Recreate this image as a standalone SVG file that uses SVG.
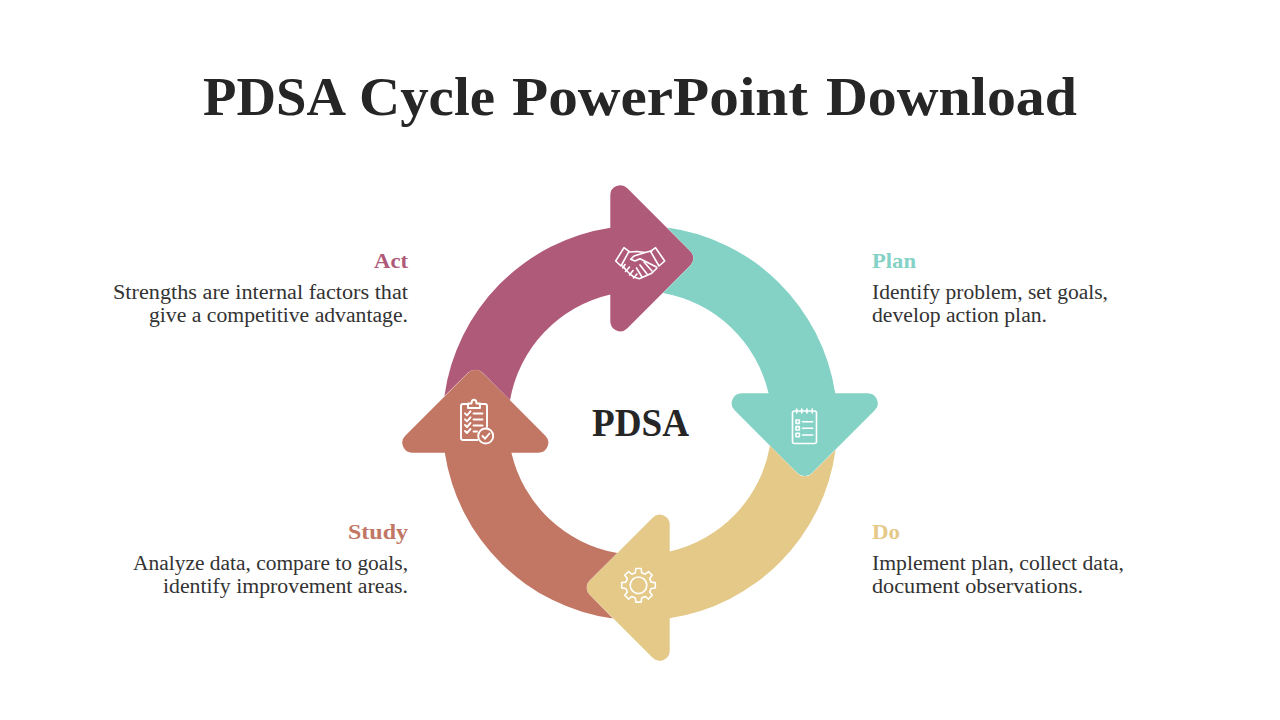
<svg xmlns="http://www.w3.org/2000/svg" width="1280" height="720" viewBox="0 0 1280 720">
<style>
text{font-family:"Liberation Serif","Noto Serif",serif;}
.t{font-size:54px;font-weight:700;fill:#262626}
.c{font-size:39px;font-weight:700;fill:#262626}
.h{font-size:22px;font-weight:700}
.b{font-size:20.5px;fill:#333333}
.e{text-anchor:end}
.ic{fill:none;stroke:#fff;stroke-width:1.6;stroke-linecap:round;stroke-linejoin:round}
.th{stroke-width:1.9}
</style>
<defs>
<path id="arrow" d="M667.1 227.4A197.5 197.5 0 0 1 835.2 393.3H867.7A10 10 0 0 1 874.77 410.37L811.77 473.37A10 10 0 0 1 797.63 473.37L734.63 410.37A10 10 0 0 1 741.7 393.3H768.6A132 132 0 0 0 662.8 293L690.4 265.4A10 10 0 0 0 690.4 251.2Z"/>
</defs>
<rect width="1280" height="720" fill="#fff"/>
<text class="t" y="115"><tspan x="203" textLength="140" lengthAdjust="spacingAndGlyphs">PDSA</tspan> <tspan x="359" textLength="136" lengthAdjust="spacingAndGlyphs">Cycle</tspan> <tspan x="512" textLength="296" lengthAdjust="spacingAndGlyphs">PowerPoint</tspan> <tspan x="826" textLength="251" lengthAdjust="spacingAndGlyphs">Download</tspan></text>
<g id="node-act">
<use href="#arrow" fill="#B05A7A" transform="rotate(-90 640 423)"/>
<g class="ic">
<path d="M624 247.700L629 251.300L621 266L615.700 261Z"/>
<path d="M655.500 247.700L650.500 251.300L659 266L664.700 261Z"/>
<path d="M629 252L637 251.500L645 252.500L652 250.700"/>
<path d="M645 252.500L634 256L630.700 259.300L635 261L640 258.700L656.500 267"/>
<path d="M622.700 266L626 270L630 274L634.300 277.300L639.300 278.700L651.700 273.300L657 268"/>
<path d="M625 264.500L622.700 268M629.500 267L625.500 271.500M633 270.500L629.500 275M637 274L633.500 278M644 262L652 271M640 265L647 274M636.500 268L642 277"/>
</g>
<text class="h e" x="408" y="268" fill="#B05A7A" textLength="34" lengthAdjust="spacingAndGlyphs">Act</text>
<text class="b e" x="408" y="299" textLength="295" lengthAdjust="spacingAndGlyphs">Strengths are internal factors that</text>
<text class="b e" x="408" y="322" textLength="259" lengthAdjust="spacingAndGlyphs">give a competitive advantage.</text>
</g>
<g id="node-plan">
<use href="#arrow" fill="#84D2C5"/>
<g class="ic">
<rect x="792.500" y="411" width="24" height="32.500" rx="2"/>
<path d="M796.700 409V413M801.700 409V413M807 409V413M812.300 409V413M802.500 421.700H812.700M802.500 428.300H812.700M802.500 435H812.700"/>
<rect x="796" y="420" width="3.400" height="3.400"/><rect x="796" y="426.600" width="3.400" height="3.400"/><rect x="796" y="433.300" width="3.400" height="3.400"/>
</g>
<text class="h" x="872" y="268" fill="#84D2C5" textLength="44" lengthAdjust="spacingAndGlyphs">Plan</text>
<text class="b" x="872" y="299" textLength="236" lengthAdjust="spacingAndGlyphs">Identify problem, set goals,</text>
<text class="b" x="872" y="322" textLength="175" lengthAdjust="spacingAndGlyphs">develop action plan.</text>
</g>
<g id="node-do">
<use href="#arrow" fill="#E4C988" transform="rotate(90 640 423)"/>
<g class="ic" transform="translate(638.5 585.3)">
<circle r="8.300"/>
<path d="M12.610-3.150L16.790-2.660V2.660L12.610 3.150L11.140 6.700L13.750 9.990L9.990 13.750L6.700 11.140L3.150 12.610L2.660 16.790H-2.660L-3.150 12.610L-6.700 11.140L-9.990 13.750L-13.750 9.990L-11.140 6.700L-12.610 3.150L-16.790 2.660V-2.660L-12.610-3.150L-11.140-6.700L-13.750-9.990L-9.990-13.750L-6.700-11.140L-3.150-12.610L-2.660-16.790H2.660L3.150-12.610L6.700-11.140L9.990-13.750L13.750-9.990L11.140-6.700Z"/>
</g>
<text class="h" x="872" y="539" fill="#E4C988" textLength="28" lengthAdjust="spacingAndGlyphs">Do</text>
<text class="b" x="872" y="570" textLength="252" lengthAdjust="spacingAndGlyphs">Implement plan, collect data,</text>
<text class="b" x="872" y="593" textLength="211" lengthAdjust="spacingAndGlyphs">document observations.</text>
</g>
<g id="node-study">
<use href="#arrow" fill="#C27664" transform="rotate(180 640 423)"/>
<g class="ic th">
<path d="M487 427V406Q487 404 485 404H479.500M468.500 404H463Q461 404 461 406V438Q461 440 463 440H477.500"/>
<path d="M468 403.500V408H480V403.500H476.500Q476.500 399.800 474 399.800Q471.500 399.800 471.500 403.500Z"/>
<path d="M465 413.300L467 415.300L470.500 411.300M465 419.300L467 421.300L470.500 417.300M465 425L467 427L470.500 423M465 431L467 433L470.500 429M473.500 413.500H482.500M473.500 419.500H482.500M473.500 425.500H482.500M473.500 431.500H477"/>
<circle cx="485.700" cy="436" r="7.500"/><path d="M482.500 436L485 438.700L489.500 433.500"/>
</g>
<text class="h e" x="408" y="539" fill="#C27664" textLength="60" lengthAdjust="spacingAndGlyphs">Study</text>
<text class="b e" x="408" y="570" textLength="275" lengthAdjust="spacingAndGlyphs">Analyze data, compare to goals,</text>
<text class="b e" x="408" y="593" textLength="245" lengthAdjust="spacingAndGlyphs">identify improvement areas.</text>
</g>
<text class="c" x="592" y="436" textLength="97" lengthAdjust="spacingAndGlyphs">PDSA</text>
</svg>
